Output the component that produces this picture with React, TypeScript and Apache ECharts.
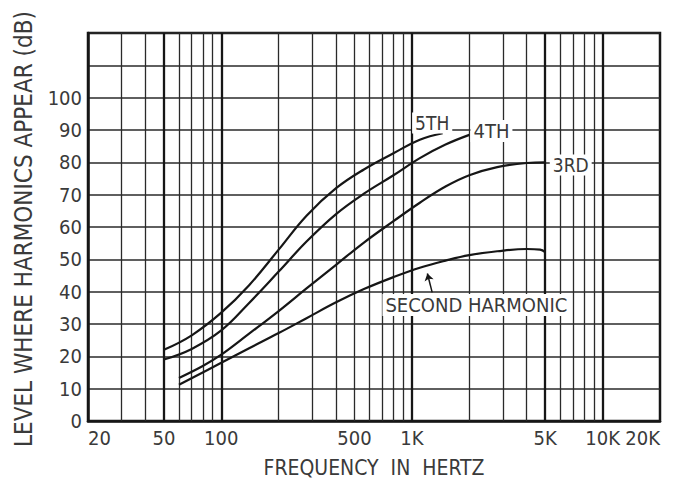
import React, { useEffect, useRef } from 'react';
import * as echarts from 'echarts';

const FONT = "'DejaVu Sans Condensed', 'Liberation Sans Narrow', 'DejaVu Sans', sans-serif";
const TEXT = '#3a3a3a';
const INK = '#161616';
const GRIDC = '#2a2a2a';

// x tick labels (Hz) and their printed text
const freqTickValues = [20, 50, 100, 500, 1000, 5000, 10000, 20000];
const freqTickText = ['20', '50', '100', '500', '1K', '5K', '10K', '20K'];
// vertical grid lines of the log paper
const majorGridFreqs = [50, 100, 1000, 5000, 10000];
const minorGridFreqs = [30, 40, 60, 70, 80, 90, 200, 300, 400, 500, 600, 700, 800, 900, 2000, 3000, 4000, 6000, 7000, 8000, 9000];

// curves (frequency in Hz, level in dB)
const fifthFreq = [50, 70, 100, 140, 200, 280, 400, 560, 800, 1100, 1450];
const fifthDb = [22, 26.5, 33.5, 42, 53, 63.5, 72, 77.8, 82.8, 87, 89];
const fourthFreq = [50, 70, 100, 140, 200, 280, 400, 560, 800, 1100, 1500, 2000];
const fourthDb = [19, 22.3, 28, 36.5, 46.2, 55.5, 64, 70.3, 76, 81.3, 85.5, 88.5];
const thirdFreq = [60, 80, 100, 140, 200, 280, 400, 560, 800, 1100, 1500, 2000, 2800, 4000, 5000];
const thirdDb = [13.3, 17, 20.5, 27, 34, 41, 48.3, 55.2, 61.8, 67.5, 72.5, 76, 78.5, 79.8, 80];
const secondFreq = [60, 100, 140, 200, 280, 400, 560, 800, 1100, 1500, 2000, 2800, 4000, 4700, 5000];
const secondDb = [11.2, 18, 22.5, 27.2, 31.8, 36.7, 40.8, 44.5, 47.4, 49.6, 51.3, 52.5, 53.2, 53, 52.2];

// annotation anchors in data space [Hz, dB]
const fifthLabelAt = [1277, 92.2];
const fourthLabelAt = [2612, 89.7];
const thirdLabelAt = [6805, 79.2];
const secondLabelAt = [2178, 35.9];
const secondArrowFrom = [1277, 39.8];
const secondArrowTo = [1205, 45.6];

const zip = (xs: number[], ys: number[]) => xs.map((x, i) => [x, ys[i]]);

const annot = (text: string, coord: number[], fontSize: number) => ({
  coord,
  symbol: 'rect',
  symbolSize: 1,
  itemStyle: { color: 'rgba(0,0,0,0)' },
  label: {
    show: true,
    position: 'inside',
    formatter: text,
    fontFamily: FONT,
    fontSize,
    color: TEXT,
    backgroundColor: '#ffffff',
    padding: [1, 3, 1, 3],
  },
});

export default function App() {
  const ref = useRef<HTMLDivElement>(null);
  useEffect(() => {
    if (!ref.current) return;
    const chart = echarts.init(ref.current, undefined, { renderer: 'svg' });
    const curveStyle = { color: INK, width: 2.2 };
    const option: any = {
      animation: false,
      backgroundColor: '#ffffff',
      grid: {
        left: 88, right: 14, top: 33, bottom: 62,
        show: true, borderColor: INK, borderWidth: 2.5,
        outerBoundsMode: 'none',
      },
      xAxis: [
        {
          type: 'log', logBase: 10, min: 20, max: 20000, position: 'bottom',
          axisLine: { show: true, lineStyle: { color: INK, width: 2.5 } },
          axisTick: { show: false }, axisLabel: { show: false }, splitLine: { show: false },
        },
        {
          type: 'value', min: Math.log10(20), max: Math.log10(20000), position: 'bottom',
          axisLine: { show: false }, axisTick: { show: false }, splitLine: { show: false },
          axisLabel: {
            show: true,
            customValues: freqTickValues.map((f) => Math.log10(f)),
            formatter: (v: number) => {
              const f = Math.round(Math.pow(10, v));
              const i = freqTickValues.indexOf(f);
              return i >= 0 ? freqTickText[i] : '';
            },
            alignMinLabel: 'left',
            alignMaxLabel: 'right',
            margin: 7,
            fontFamily: FONT, fontSize: 20, color: TEXT,
          },
        },
      ],
      yAxis: {
        type: 'value', min: 0, max: 120, interval: 10,
        axisLine: { show: true, lineStyle: { color: INK, width: 2.5 } },
        axisTick: { show: false },
        axisLabel: {
          formatter: (v: number) => (v <= 100 ? String(v) : ''),
          margin: 6,
          fontFamily: FONT, fontSize: 20, color: TEXT,
        },
        splitLine: { show: true, lineStyle: { color: GRIDC, width: 1.7 } },
      },
      graphic: [
        {
          type: 'text', x: 24, y: 229, rotation: Math.PI / 2,
          style: {
            text: 'LEVEL WHERE HARMONICS APPEAR (dB)',
            font: `24px ${FONT}`, fill: TEXT,
            textAlign: 'center', textVerticalAlign: 'middle', align: 'center', verticalAlign: 'middle',
          },
        },
        {
          type: 'text', x: 374, y: 468,
          style: {
            text: 'FREQUENCY  IN  HERTZ',
            font: `21px ${FONT}`, fill: TEXT,
            textAlign: 'center', textVerticalAlign: 'middle', align: 'center', verticalAlign: 'middle',
          },
        },
      ],
      series: [
        {
          name: 'grid', type: 'line', data: [], xAxisIndex: 0, silent: true, z: 1,
          markLine: {
            silent: true, symbol: 'none', animation: false,
            label: { show: false },
            data: [
              ...minorGridFreqs.map((f) => ({ xAxis: f, lineStyle: { color: GRIDC, width: 1.3, type: 'solid' } })),
              ...majorGridFreqs.map((f) => ({ xAxis: f, lineStyle: { color: INK, width: 2.3, type: 'solid' } })),
            ],
          },
        },
        {
          name: '5TH', type: 'line', xAxisIndex: 0, data: zip(fifthFreq, fifthDb), smooth: 0.4,
          symbol: 'none', lineStyle: curveStyle, z: 5,
          markPoint: { z: 10, data: [annot('5TH', fifthLabelAt, 19)] },
        },
        {
          name: '4TH', type: 'line', xAxisIndex: 0, data: zip(fourthFreq, fourthDb), smooth: 0.4,
          symbol: 'none', lineStyle: curveStyle, z: 5,
          markPoint: { z: 10, data: [annot('4TH', fourthLabelAt, 20)] },
        },
        {
          name: '3RD', type: 'line', xAxisIndex: 0, data: zip(thirdFreq, thirdDb), smooth: 0.4,
          symbol: 'none', lineStyle: curveStyle, z: 5,
          markPoint: { z: 10, data: [annot('3RD', thirdLabelAt, 19)] },
        },
        {
          name: 'SECOND HARMONIC', type: 'line', xAxisIndex: 0, data: zip(secondFreq, secondDb), smooth: 0.4,
          symbol: 'none', lineStyle: curveStyle, z: 5,
          markPoint: { z: 10, data: [annot('SECOND HARMONIC', secondLabelAt, 20)] },
          markLine: {
            silent: true, symbol: ['none', 'arrow'], symbolSize: 7, label: { show: false },
            lineStyle: { color: INK, width: 1.5, type: 'solid' },
            data: [[{ coord: secondArrowFrom }, { coord: secondArrowTo }]],
          },
        },
      ],
    };
    chart.setOption(option);
    return () => chart.dispose();
  }, []);
  return (
    <div
      ref={ref}
      style={{ position: 'fixed', left: 0, top: 0, width: 674, height: 483, background: '#fff' }}
    />
  );
}
